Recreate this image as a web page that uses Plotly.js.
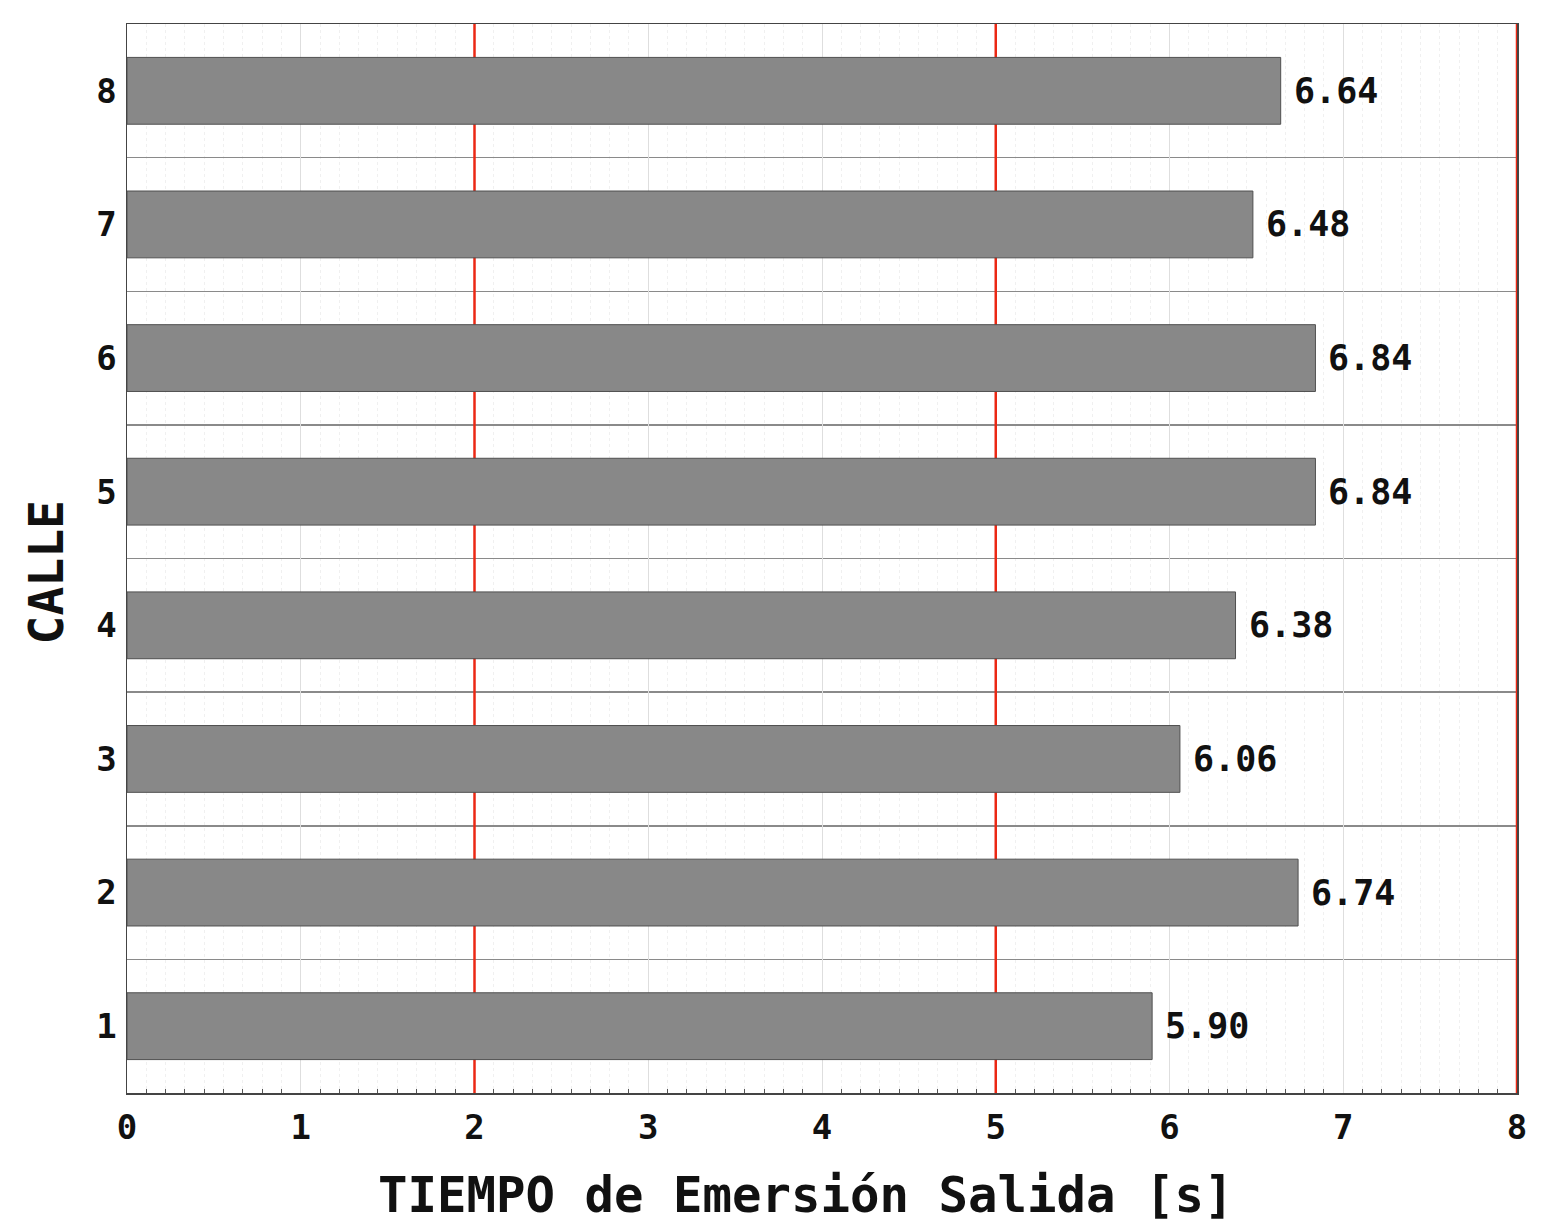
<!DOCTYPE html>
<html>
<head>
<meta charset="utf-8">
<script src="https://cdn.plot.ly/plotly-3.0.1.min.js"></script>
<style>html,body{margin:0;padding:0;background:#fff;}#chart{width:1559px;height:1223px;}</style>
</head>
<body>
<div id="chart"></div>
<script>
const calles = [1, 2, 3, 4, 5, 6, 7, 8];
const tiempos = [5.90, 6.74, 6.06, 6.38, 6.84, 6.84, 6.48, 6.64];
const xTicks = [0, 1, 2, 3, 4, 5, 6, 7, 8];
const redLines = [2, 5, 8];
const xTitle = 'TIEMPO de Emersión Salida [s]';
const yTitle = 'CALLE';

const FONT = '"DejaVu Sans Mono", monospace';

const separators = calles.slice(1).map(c => c - 0.5);
const minorX = [];
xTicks.slice(0, -1).forEach(t => { for (let k = 1; k < 9; k++) minorX.push(t + k / 9); });

const trace = {
  type: 'bar',
  orientation: 'h',
  x: tiempos,
  y: calles,
  width: 0.5,
  marker: {color: '#888888', line: {color: '#505050', width: 1}},
  hoverinfo: 'x+y'
};

const annotations = calles.map((c, i) => ({
  x: tiempos[i], y: c, xref: 'x', yref: 'y',
  text: '<b>' + tiempos[i].toFixed(2) + '</b>',
  showarrow: false, xanchor: 'left', yanchor: 'middle', xshift: 11,
  font: {family: FONT, size: 35, color: '#111'}
}));

annotations.push({
  xref: 'paper', yref: 'paper', x: 0, y: 0.5, xanchor: 'center', yanchor: 'middle',
  xshift: -82, yshift: -14, textangle: -90, showarrow: false,
  text: '<b>' + yTitle + '</b>',
  font: {family: FONT, size: 48, color: '#111'}
});

annotations.push({
  xref: 'paper', yref: 'paper', x: 0.5, y: 0, xanchor: 'center', yanchor: 'middle',
  xshift: -16, yshift: -102, showarrow: false,
  text: '<b>' + xTitle + '</b>',
  font: {family: FONT, size: 49, color: '#111'}
});

const shapes = redLines.map(v => ({
  type: 'line', xref: 'x', yref: 'y', x0: v, x1: v, y0: 0.5, y1: 8.5,
  line: {color: 'rgb(235,40,20)', width: 2.5}, layer: v === 8 ? 'above' : 'between'
}));

const layout = {
  width: 1559, height: 1223,
  margin: {l: 127, r: 42, t: 24, b: 130},
  paper_bgcolor: '#fff', plot_bgcolor: '#fff',
  showlegend: false,
  font: {family: FONT, color: '#111'},
  xaxis: {
    range: [0, 8], tickvals: xTicks, ticktext: xTicks.map(v => '<b>' + v + '</b>'),
    showgrid: true, gridcolor: '#dedede', gridwidth: 1,
    zeroline: false, showline: true, linecolor: '#444', linewidth: 1.5, mirror: true,
    ticks: '', ticklabelstandoff: 4,
    tickfont: {family: FONT, size: 34, color: '#111'},
    minor: {tickvals: minorX, showgrid: true, gridcolor: '#f0f0f0', griddash: 'dot', gridwidth: 1,
            ticks: 'inside', ticklen: 4, tickcolor: '#555'},
    fixedrange: true
  },
  yaxis: {
    range: [0.5, 8.5], tickvals: calles, ticktext: calles.map(v => '<b>' + v + '</b>'),
    showgrid: false, zeroline: false, showline: true, linecolor: '#444', linewidth: 1.5, mirror: true,
    ticks: '', ticklabelstandoff: 2,
    tickfont: {family: FONT, size: 34, color: '#111'},
    minor: {tickvals: separators, showgrid: true, gridcolor: '#8a8a8a', gridwidth: 1.5, ticks: ''},
    fixedrange: true
  },
  shapes: shapes,
  annotations: annotations,
  bargap: 0.5
};

Plotly.newPlot('chart', [trace], layout, {displayModeBar: false, staticPlot: true});
</script>
</body>
</html>
